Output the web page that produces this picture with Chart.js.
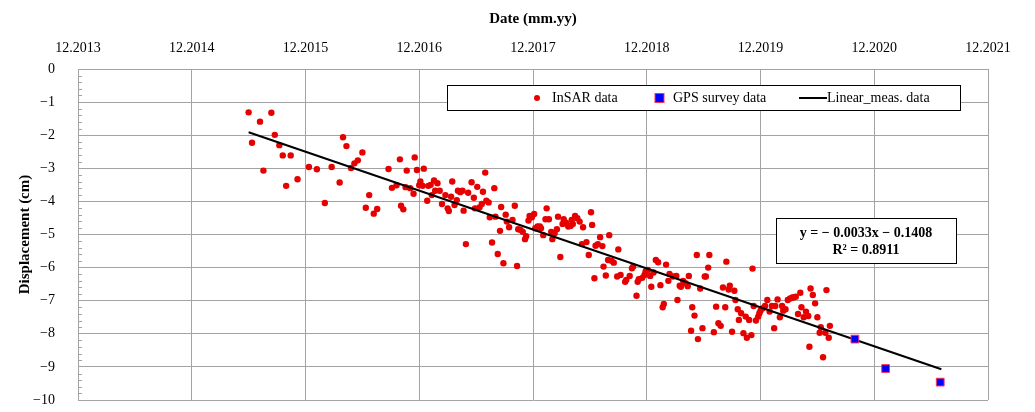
<!DOCTYPE html>
<html>
<head>
<meta charset="utf-8">
<script src="https://cdn.jsdelivr.net/npm/chart.js@4/dist/chart.umd.min.js"></script>
<style>
  html, body { margin: 0; padding: 0; background: #ffffff; }
  #wrap { width: 1035px; height: 412px; position: relative; }
</style>
</head>
<body>
<div id="wrap"><canvas id="c" width="1035" height="412"></canvas></div>
<script>
// x values: years after 12.2013 ; y values: displacement (cm)
const xTickLabels = ['12.2013','12.2014','12.2015','12.2016','12.2017','12.2018','12.2019','12.2020','12.2021'];
const yTickValues = [0,-1,-2,-3,-4,-5,-6,-7,-8,-9,-10];

const insarT = [1.50,1.70,1.60,1.73,1.53,1.77,1.80,1.87,1.63,1.83,1.93,2.03,2.10,2.17,2.23,2.30,2.33,2.36,2.50,2.46,2.43,2.40,2.56,2.53,2.63,2.60,2.73,2.83,2.76,2.80,2.84,2.86,2.89,2.96,2.98,3.04,2.88,2.92,2.95,3.01,3.00,3.03,3.07,3.08,3.13,3.16,3.10,3.14,3.18,3.11,3.20,3.23,3.25,3.26,3.28,3.29,3.31,3.33,3.34,3.36,3.38,3.39,3.41,3.43,3.46,3.48,3.49,3.51,3.53,3.55,3.56,3.58,3.59,3.61,3.62,3.64,3.66,3.67,3.69,3.71,3.72,3.74,3.76,3.77,3.79,3.82,3.84,3.86,3.87,3.89,3.91,3.93,3.94,3.96,3.97,3.99,4.01,4.02,4.04,4.06,4.07,4.09,4.11,4.12,4.14,4.16,4.17,4.19,4.21,4.22,4.24,4.26,4.27,4.29,4.31,4.33,4.34,4.35,4.37,4.39,4.41,4.44,4.43,4.47,4.49,4.51,4.52,4.55,4.57,4.59,4.61,4.62,4.64,4.54,4.66,4.67,4.69,4.71,4.74,4.75,4.77,4.81,4.82,4.85,4.87,4.88,4.91,4.92,4.93,4.96,4.98,4.99,5.01,5.03,5.04,5.06,5.08,5.10,5.12,5.14,5.15,5.17,5.19,5.20,5.23,5.26,5.27,5.29,5.30,5.32,5.34,5.36,5.37,5.39,5.40,5.42,5.44,5.45,5.47,5.49,5.51,5.52,5.54,5.55,5.59,5.61,5.63,5.65,5.67,5.69,5.70,5.72,5.73,5.75,5.77,5.78,5.80,5.81,5.83,5.85,5.87,5.88,5.90,5.92,5.93,5.94,5.96,5.98,5.99,6.00,6.02,6.04,6.06,6.08,6.10,6.12,6.13,6.15,6.17,6.19,6.20,6.22,6.24,6.26,6.28,6.29,6.31,6.33,6.35,6.36,6.38,6.40,6.42,6.43,6.44,6.46,6.48,6.50,6.52,6.53,6.55,6.57,6.58,6.60,6.61];
const insarD = [-1.31,-1.32,-1.59,-1.99,-2.23,-2.30,-2.61,-2.61,-3.07,-3.53,-3.33,-2.96,-3.03,-4.05,-2.96,-3.43,-2.06,-2.33,-2.52,-2.76,-2.85,-2.99,-3.81,-4.19,-4.23,-4.37,-3.02,-2.73,-3.59,-3.51,-4.13,-4.24,-3.07,-2.67,-3.05,-3.01,-3.57,-3.60,-3.77,-3.40,-3.51,-3.53,-3.98,-3.53,-3.37,-3.45,-3.50,-3.68,-3.68,-3.81,-4.08,-3.81,-4.21,-4.29,-3.86,-3.40,-4.11,-3.96,-3.68,-3.72,-3.68,-4.28,-5.29,-3.74,-3.42,-3.89,-4.21,-3.56,-4.18,-4.08,-3.71,-3.13,-3.98,-4.03,-4.48,-5.24,-3.60,-4.46,-5.59,-4.89,-4.17,-5.87,-4.40,-4.61,-4.78,-4.56,-4.13,-5.95,-4.84,-4.86,-4.92,-5.14,-5.05,-4.58,-4.44,-4.48,-4.38,-4.81,-4.76,-4.76,-4.81,-5.02,-4.54,-4.21,-4.54,-4.92,-5.14,-4.96,-4.84,-4.46,-5.68,-4.68,-4.54,-4.64,-4.76,-4.74,-4.56,-4.68,-4.44,-4.51,-4.61,-4.78,-5.29,-5.23,-5.62,-4.33,-4.71,-5.34,-5.29,-5.08,-5.35,-5.97,-6.24,-6.32,-5.77,-5.02,-5.79,-5.85,-6.27,-5.45,-6.22,-6.43,-6.37,-6.25,-6.02,-5.97,-6.85,-6.43,-6.35,-6.31,-6.22,-6.12,-6.07,-6.25,-6.58,-6.15,-5.77,-5.84,-6.53,-7.20,-7.10,-5.91,-6.40,-6.19,-6.27,-6.25,-6.98,-6.55,-6.58,-6.40,-6.47,-6.56,-6.25,-7.91,-7.20,-7.45,-5.62,-8.16,-6.63,-7.83,-6.27,-6.27,-6.00,-5.62,-7.95,-7.18,-7.68,-7.76,-6.60,-7.20,-5.82,-6.66,-6.55,-7.94,-6.70,-6.98,-7.26,-7.58,-7.38,-7.98,-7.48,-8.12,-7.58,-8.04,-6.03,-7.16,-7.60,-7.48,-7.38,-7.30,-7.23,-7.16,-6.98,-7.33,-7.16,-7.83,-7.16,-6.96,-7.50,-7.16,-7.30,-7.26,-6.98,-6.93,-6.90,-6.90,-6.88,-7.40,-6.76,-7.20,-7.50,-7.33,-7.46,-8.39,-6.63,-6.83,-7.08,-7.50,-7.97,-7.80,-8.71,-7.97,-6.68,-8.12,-7.76];

const gpsT = [6.83, 7.10, 7.58];
const gpsD = [-8.16, -9.05, -9.46];

const fitT = [1.50, 7.59];
const fitD = [-1.91, -9.07];

const equationLines = ['y = \u2212 0.0033x \u2212 0.1408', 'R\u00B2 = 0.8911'];

const FONT = "'Liberation Serif', 'DejaVu Serif', serif";
const GRID = '#a3a3a3';

function pts(xs, ys) { return xs.map((x, i) => ({ x: x, y: ys[i] })); }

const minorTicks = {
  id: 'minorTicks',
  afterDatasetsDraw(chart) {
    const ys = chart.scales.y, ctx = chart.ctx, left = chart.chartArea.left;
    ctx.save();
    ctx.strokeStyle = GRID;
    ctx.lineWidth = 1;
    for (let k = 0; k < 50; k++) {
      if (k % 5 === 0) continue;
      const v = -k * 0.2;
      const py = Math.round(ys.getPixelForValue(v)) + 0.5;
      ctx.beginPath();
      ctx.moveTo(left, py);
      ctx.lineTo(left + 4, py);
      ctx.stroke();
    }
    ctx.restore();
  }
};

const boxes = {
  id: 'boxes',
  afterDraw(chart) {
    const ctx = chart.ctx;
    ctx.save();
    // legend box
    ctx.fillStyle = '#fff';
    ctx.fillRect(447, 85, 513, 25);
    ctx.strokeStyle = '#000';
    ctx.lineWidth = 1;
    ctx.strokeRect(447.5, 85.5, 513, 25);
    const ly = 98;
    const ds = chart.data.datasets;
    ctx.font = '14px ' + FONT;
    ctx.textBaseline = 'middle';
    ctx.textAlign = 'left';
    // InSAR
    ctx.fillStyle = ds[0].backgroundColor;
    ctx.beginPath(); ctx.arc(537, ly, 3, 0, Math.PI * 2); ctx.fill();
    ctx.fillStyle = '#000';
    ctx.fillText(ds[0].label, 552, ly);
    // GPS
    ctx.fillStyle = ds[1].backgroundColor;
    ctx.fillRect(655, ly - 4.5, 9, 9);
    ctx.strokeStyle = ds[1].borderColor;
    ctx.strokeRect(655, ly - 4.5, 9, 9);
    ctx.fillStyle = '#000';
    ctx.fillText(ds[1].label, 673, ly);
    // line
    ctx.strokeStyle = '#000';
    ctx.lineWidth = 2;
    ctx.beginPath(); ctx.moveTo(799, ly); ctx.lineTo(827, ly); ctx.stroke();
    ctx.fillText(ds[2].label, 827, ly);

    // equation box
    ctx.fillStyle = '#fff';
    ctx.fillRect(776, 218, 180, 45);
    ctx.lineWidth = 1;
    ctx.strokeStyle = '#000';
    ctx.strokeRect(776.5, 218.5, 180, 45);
    ctx.fillStyle = '#000';
    ctx.font = 'bold 14px ' + FONT;
    ctx.textAlign = 'center';
    ctx.fillText(equationLines[0], 866, 233);
    ctx.fillText(equationLines[1], 866, 250);
    ctx.restore();
  }
};

new Chart(document.getElementById('c'), {
  type: 'scatter',
  data: {
    datasets: [
      { label: 'InSAR data', data: pts(insarT, insarD), backgroundColor: '#e60000', borderWidth: 0, pointRadius: 3.2, order: 3 },
      { label: 'GPS survey data', data: pts(gpsT, gpsD), pointStyle: 'rect', backgroundColor: '#0000ff', borderColor: '#ff3355', borderWidth: 1, pointRadius: 5.5, order: 1 },
      { label: 'Linear_meas. data', data: pts(fitT, fitD), showLine: true, borderColor: '#000', borderWidth: 2, pointRadius: 0, backgroundColor: '#000', order: 2 }
    ]
  },
  options: {
    responsive: false,
    animation: false,
    events: [],
    layout: { padding: { left: 0, right: 47, top: 0, bottom: 12 } },
    plugins: { legend: { display: false }, tooltip: { enabled: false } },
    scales: {
      x: {
        type: 'linear', position: 'top', min: 0, max: 8,
        afterFit(s) { s.height = 69; s.paddingLeft = 0; s.paddingRight = 0; s.paddingTop = 0; s.paddingBottom = 0; },
        ticks: { stepSize: 1, padding: 12, color: '#000', font: { family: FONT, size: 14 },
                 callback: (v) => xTickLabels[v] },
        grid: { color: GRID, lineWidth: 1, drawTicks: false },
        border: { color: GRID },
        title: { display: true, text: 'Date (mm.yy)', color: '#000', font: { family: FONT, size: 15, weight: 'bold' }, padding: { top: 10, bottom: 0 } }
      },
      y: {
        type: 'linear', min: -10, max: 0,
        afterFit(s) { s.width = 78; s.paddingTop = 0; s.paddingBottom = 0; s.paddingLeft = 0; s.paddingRight = 0; },
        afterBuildTicks(s) { s.ticks = yTickValues.map(v => ({ value: v })); },
        ticks: { padding: 23, color: '#000', font: { family: FONT, size: 14 },
                 callback: (v) => v === 0 ? '0' : '\u2212' + Math.abs(v) },
        grid: { color: GRID, lineWidth: 1, drawTicks: false },
        border: { color: GRID },
        title: { display: true, text: 'Displacement (cm)', color: '#000', font: { family: FONT, size: 15, weight: 'bold' }, padding: { top: 16, bottom: 0 } }
      }
    }
  },
  plugins: [minorTicks, boxes]
});
</script>
</body>
</html>
